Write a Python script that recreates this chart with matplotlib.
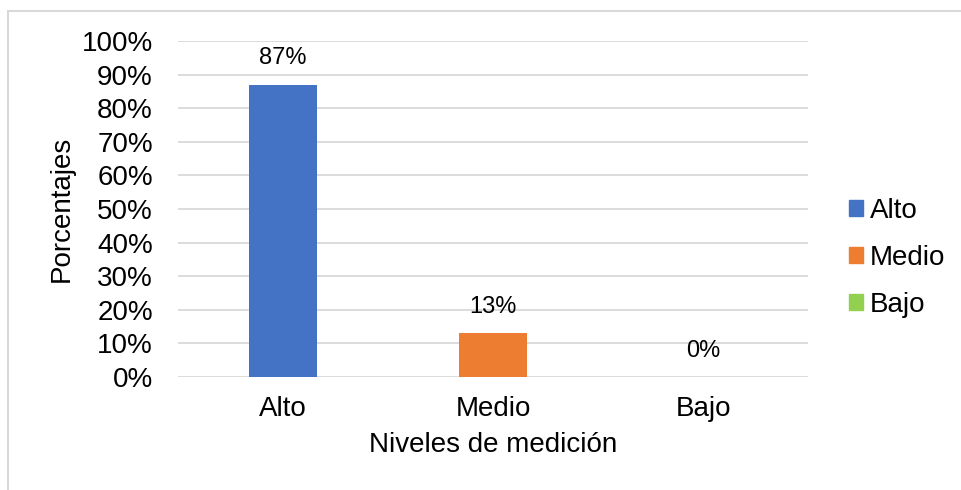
import matplotlib.pyplot as plt
from matplotlib.patches import Patch, Rectangle

plt.rcParams['font.family'] = ['Liberation Sans', 'DejaVu Sans']

# data
niveles = ['Alto', 'Medio', 'Bajo']
porcentajes = [87, 13, 0]
colores = ['#4472C4', '#ED7D31', '#92D050']
yticks = [0, 10, 20, 30, 40, 50, 60, 70, 80, 90, 100]

fig = plt.figure(figsize=(9.61, 4.9), dpi=100)
ax = fig.add_axes([178 / 961, 1 - 377 / 490, 630 / 961, 336 / 490])

x = list(range(len(niveles)))
ax.bar(x, porcentajes, width=0.32, color=colores, zorder=3)

for xi, v in zip(x, porcentajes):
    ax.annotate(f'{v}%', (xi, v), xytext=(0, 11), textcoords='offset points',
                ha='center', va='bottom', fontsize=17)

ax.set_xlim(-0.5, 2.5)
ax.set_ylim(0, 100)
ax.set_yticks(yticks)
ax.set_yticklabels([f'{t}%' for t in yticks], fontsize=20)
ax.set_xticks(x)
ax.set_xticklabels(niveles, fontsize=20)
ax.tick_params(length=0)
ax.tick_params(axis='y', pad=18)
ax.tick_params(axis='x', pad=14)
ax.grid(axis='y', color='#D9D9D9', linewidth=1.3, zorder=0)
for s in ax.spines.values():
    s.set_visible(False)

ax.set_xlabel('Niveles de medición', fontsize=20, labelpad=7)
ax.set_ylabel('Porcentajes', fontsize=20, labelpad=5)

handles = [Patch(color=c, label=n) for c, n in zip(colores, niveles)]
fig.legend(handles=handles, loc='center left', bbox_to_anchor=(849 / 961, 1 - 258 / 490),
           frameon=False, fontsize=20, handlelength=0.5, handleheight=0.5,
           handletextpad=0.25, labelspacing=0.75, borderaxespad=0, borderpad=0)

# outer chart border
fig.patches.append(Rectangle((8 / 961, -0.1), 1.1, 1 - 11 / 490 + 0.1, transform=fig.transFigure,
                             fill=False, edgecolor='#D9D9D9', linewidth=1.5))

fig.savefig('out.png', dpi=100)
